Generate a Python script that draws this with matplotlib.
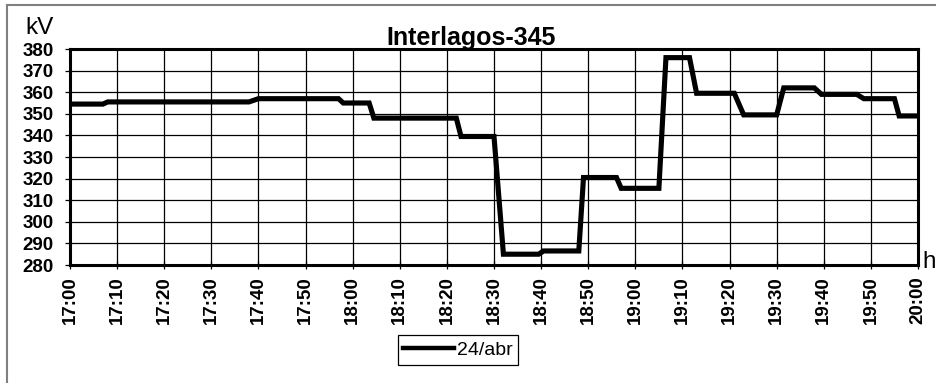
import matplotlib
matplotlib.use('Agg')
import matplotlib.pyplot as plt
from matplotlib.lines import Line2D

plt.rcParams['font.family'] = ['Liberation Sans', 'DejaVu Sans']

# minutos depois das 17:00 e tensao em kV
minutos = [0, 7, 8, 38, 40, 57, 58, 63.5, 64.5, 82, 83, 90, 92, 99.5, 100.5, 108, 109,
           116, 117, 125, 126.5, 131.5, 133, 141, 143, 150, 151.5, 158, 159.5, 167,
           168.5, 175, 176, 179.5]
kv = [354.5, 354.5, 355.5, 355.5, 357, 357, 355, 355, 348, 348, 339.5, 339.5, 285, 285,
      286.5, 286.5, 320.5, 320.5, 315.5, 315.5, 376, 376, 359.5, 359.5, 349.5, 349.5,
      362, 362, 359, 359, 357, 357, 349, 349]

x_ticks = list(range(0, 181, 10))
x_labels = ['17:00', '17:10', '17:20', '17:30', '17:40', '17:50', '18:00', '18:10',
            '18:20', '18:30', '18:40', '18:50', '19:00', '19:10', '19:20', '19:30',
            '19:40', '19:50', '20:00']
y_ticks = list(range(280, 381, 10))

W, H = 937, 383
fig = plt.figure(figsize=(W / 100, H / 100), dpi=100)
ax = fig.add_axes([70 / W, 1 - 265 / H, (918 - 70) / W, (265 - 49) / H])

line, = ax.plot(minutos, kv, color='black', lw=3.7, solid_joinstyle='miter', label='24/abr')

ax.set_xlim(0, 180)
ax.set_ylim(280, 380)
ax.set_xticks(x_ticks)
ax.set_xticklabels(x_labels, rotation=90, fontweight='bold', fontsize=13.5)
ax.set_yticks(y_ticks)
ax.set_yticklabels([str(v) for v in y_ticks], fontweight='bold', fontsize=13.5)
ax.tick_params(axis='y', direction='out', length=3.6, width=0.9, pad=8)
ax.tick_params(axis='x', direction='inout', length=6, width=0.9, pad=5)
ax.grid(True, color='black', lw=0.9)
ax.set_axisbelow(True)
for sp in ax.spines.values():
    sp.set_linewidth(2.2)
    sp.set_color('black')

fig.text(471 / W, 1 - 45 / H, 'Interlagos-345', ha='center', va='baseline',
         fontsize=18, fontweight='bold')
fig.text(25 / W, 1 - 34 / H, 'kV', ha='left', va='baseline', fontsize=17.5)
fig.text(922 / W, 1 - 268 / H, 'h', ha='left', va='baseline', fontsize=17.5)

leg = fig.legend(handles=[line], loc='center', bbox_to_anchor=(458 / W, 1 - 350 / H),
                 fontsize=14, handlelength=2.6, handletextpad=0.15, borderpad=0.3,
                 fancybox=False, framealpha=1, edgecolor='black')
leg.get_frame().set_linewidth(0.9)
leg.get_lines()[0].set_linewidth(3.2)

# moldura cinza do grafico (so topo e esquerda aparecem)
fig.add_artist(Line2D([7 / W, 7 / W], [0, 1 - 5 / H], color='#808080', lw=1.5))
fig.add_artist(Line2D([7 / W, 1], [1 - 5 / H, 1 - 5 / H], color='#808080', lw=1.5))

fig.savefig('out.png', dpi=100)
